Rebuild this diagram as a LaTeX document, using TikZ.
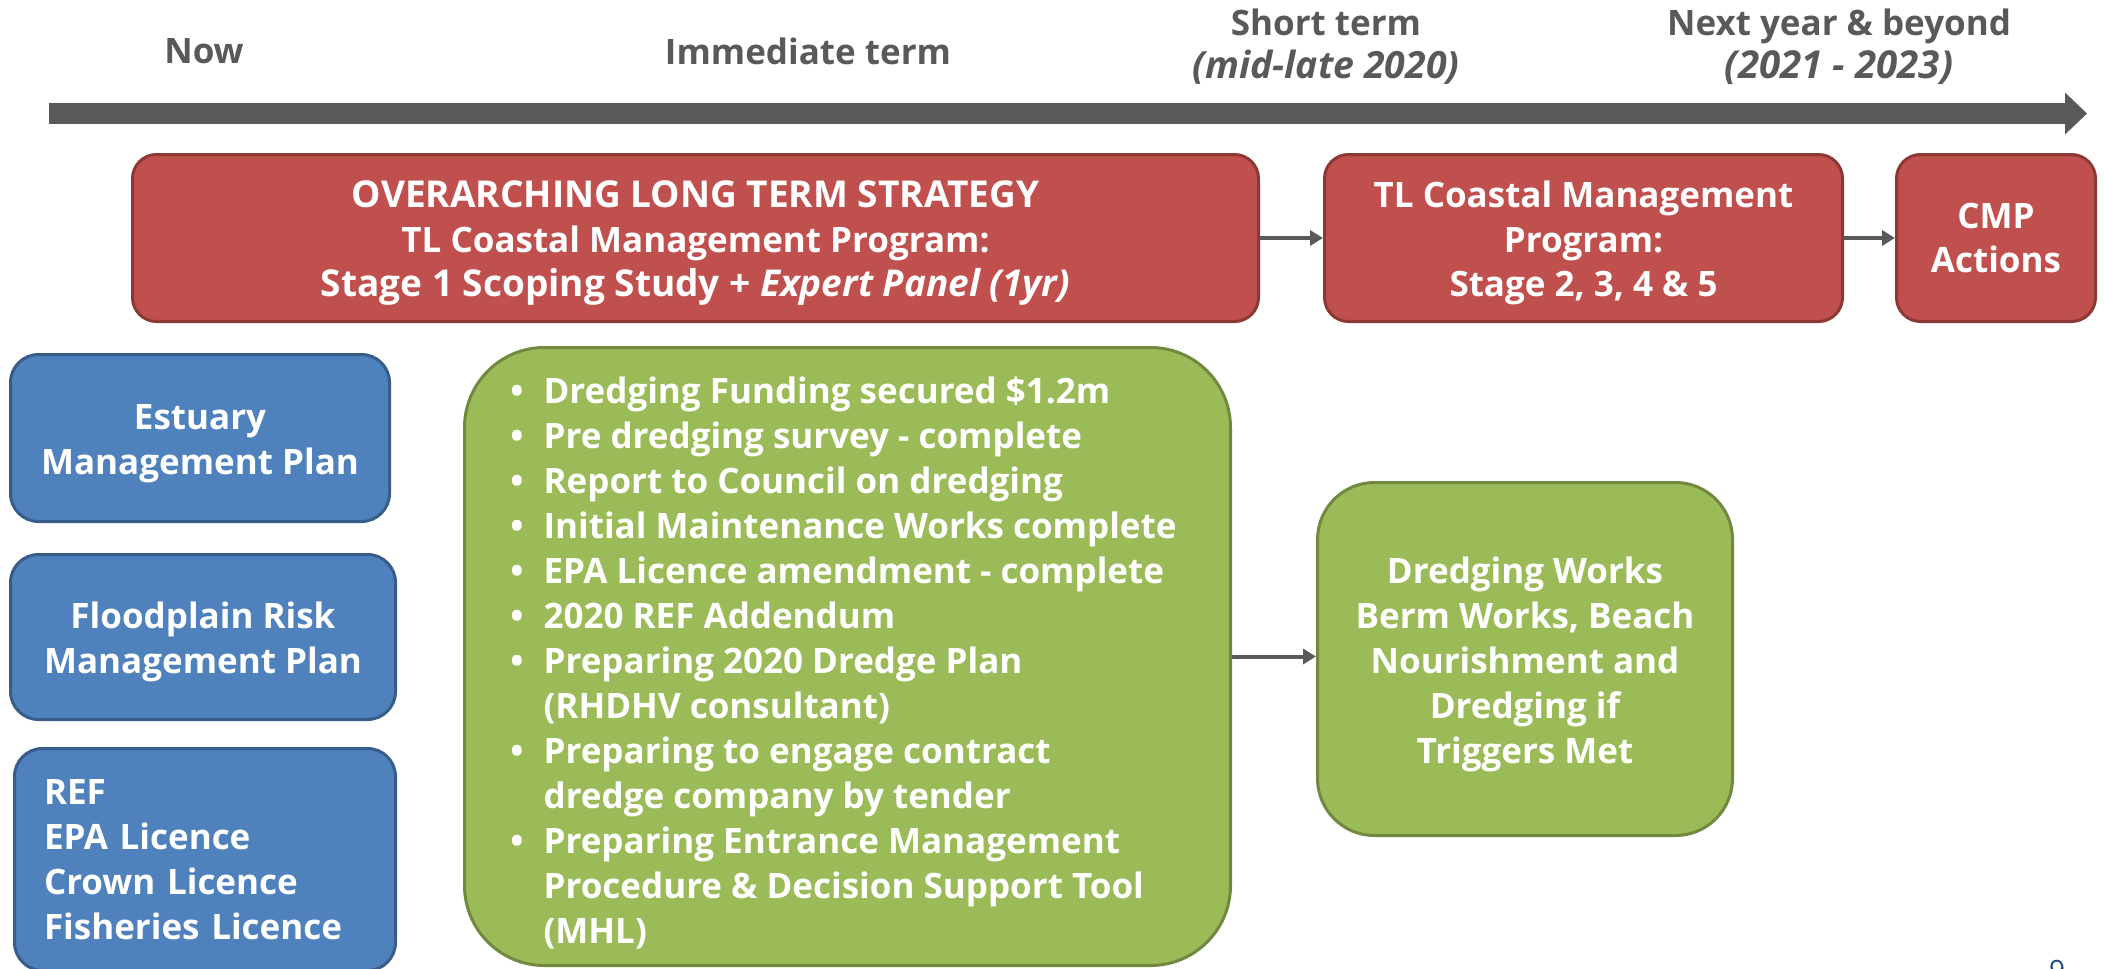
\documentclass[tikz,border=0pt]{standalone}
\usepackage{fontspec}
\setmainfont{Open Sans}
\usetikzlibrary{arrows.meta}
\definecolor{tlgray}{HTML}{595959}
\definecolor{cmpred}{HTML}{C0504D}
\definecolor{cmpredline}{HTML}{8C3836}
\definecolor{planblue}{HTML}{4F81BD}
\definecolor{planblueline}{HTML}{385D8A}
\definecolor{worksgreen}{HTML}{9BBB59}
\definecolor{worksgreenline}{HTML}{71893F}
\definecolor{pagenumblue}{HTML}{1F497D}
% lifts the first line of a box to the height it has in the slide font
\newcommand\boxtopstrut{\rule{0pt}{37pt}}

\begin{document}
\begin{tikzpicture}[x=1pt,y=1pt,yscale=-1,
  termlabel/.style={text=tlgray,font=\fontsize{35}{43}\selectfont\bfseries,align=center,inner sep=0pt},
  redbox/.style={draw=cmpredline,fill=cmpred,line width=3pt,rounded corners=24pt,text=white,font=\fontsize{35}{44.5}\selectfont\bfseries,align=center,minimum height=167pt,inner sep=0pt},
  bluebox/.style={draw=planblueline,fill=planblue,line width=3pt,rounded corners=28pt,text=white,font=\fontsize{35}{45}\selectfont\bfseries,align=center,inner sep=0pt},
  greenbox/.style={draw=worksgreenline,fill=worksgreen,line width=3pt,text=white,font=\fontsize{35}{45}\selectfont\bfseries,inner sep=0pt},
  flowarrow/.style={draw=tlgray,line width=4pt,-{Triangle[length=13pt,width=15pt]}},
  timeline/.style={draw=tlgray,line width=21pt,-{Triangle[length=22pt,width=42pt,line width=0pt]}}]

\useasboundingbox (0,0) rectangle (2105,969);

% Timeline
\coordinate (tlstart) at (49,113.5);
\coordinate (tlend) at (2087,113.5);
\draw[timeline] (tlstart) -- (tlend);

% Term headings
\node[termlabel] (now) at (204,51) {Now};
\node[termlabel] (immediate) at (808,51) {Immediate term};
\node[termlabel] (shortterm) at (1326,47) {Short term\\{\fontsize{37.5}{43}\selectfont\textit{(mid-late 2020)}}};
\node[termlabel] (nextyear) at (1839,47) {Next year \& beyond\\{\fontsize{38.5}{43}\selectfont\textit{(2021 - 2023)}}};

% Coastal management program
\node[redbox,minimum width=1126pt] (overarching) at (695.5,238) {\boxtopstrut{\fontsize{37}{44.5}\selectfont OVERARCHING LONG TERM STRATEGY}\\TL Coastal Management Program:\\{\fontsize{37}{44.5}\selectfont Stage 1 Scoping Study + \textit{Expert Panel (1yr)}}};
\node[redbox,minimum width=518pt] (cmpstages) at (1583.5,238) {\boxtopstrut TL Coastal Management\\Program:\\Stage 2, 3, 4 \& 5};
\node[redbox,minimum width=199pt] (cmpactions) at (1996,238) {CMP\\Actions};

% Plans and licences
\node[bluebox,minimum width=379pt,minimum height=167pt] (estuary) at (200,438) {\boxtopstrut Estuary\\Management Plan};
\node[bluebox,minimum width=385pt,minimum height=165pt] (floodplain) at (203,637) {\boxtopstrut Floodplain Risk\\Management Plan};
\node[bluebox,minimum width=381pt,minimum height=222pt,align=left,text width=322pt,inner xsep=29.5pt] (licences) at (205,859.5) {REF\\EPA Licence\\Crown Licence\\Fisheries Licence};

% Dredging
\node[greenbox,rounded corners=80pt,minimum width=766pt,minimum height=618pt,text height=46.5pt] (dredgeprep) at (847.5,656.5) {%
  \begin{tabular}[t]{@{}l@{\hspace{20pt}}l@{\hspace{8pt}}}
  \textbullet & Dredging Funding secured \$1.2m\\
  \textbullet & Pre dredging survey - complete\\
  \textbullet & Report to Council on dredging\\
  \textbullet & Initial Maintenance Works complete\\
  \textbullet & EPA Licence amendment - complete\\
  \textbullet & 2020 REF Addendum\\
  \textbullet & Preparing 2020 Dredge Plan\\
              & (RHDHV consultant)\\
  \textbullet & Preparing to engage contract\\
              & dredge company by tender\\
  \textbullet & Preparing Entrance Management\\
              & Procedure \& Decision Support Tool\\
              & (MHL)
  \end{tabular}};
\node[greenbox,rounded corners=57pt,minimum width=415pt,minimum height=353pt,align=center] (dredgeworks) at (1525,659) {\boxtopstrut Dredging Works\\Berm Works, Beach\\Nourishment and\\Dredging if\\Triggers Met};

% Connectors
\draw[flowarrow] (overarching) -- (cmpstages);
\draw[flowarrow] (cmpstages) -- (cmpactions);
\draw[flowarrow] (dredgeprep.east) -- (dredgeworks.west |- dredgeprep.east);

% Page number
\node[text=pagenumblue,font=\fontsize{28}{30}\selectfont,anchor=north,inner sep=0pt] (pagenum) at (2057,960) {9};
\end{tikzpicture}
\end{document}
